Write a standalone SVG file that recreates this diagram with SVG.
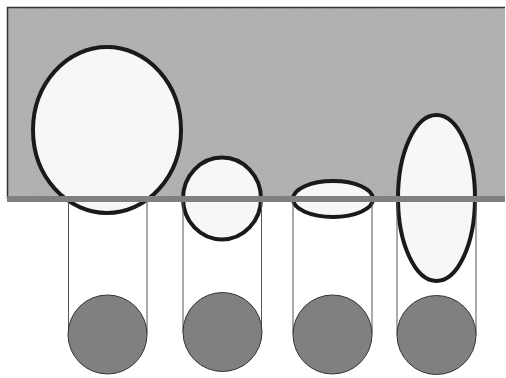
<svg xmlns="http://www.w3.org/2000/svg" width="506" height="378" viewBox="0 0 506 378">
<defs>
<filter id="noise" x="0" y="0" width="100%" height="100%">
<feTurbulence type="fractalNoise" baseFrequency="0.9" numOctaves="2" seed="3" result="t"/>
<feColorMatrix in="t" type="matrix" values="0 0 0 0 0.5  0 0 0 0 0.5  0 0 0 0 0.5  0 0 0 0.35 0" result="n"/>
<feComposite in="n" in2="SourceGraphic" operator="in" result="nm"/>
<feBlend in="SourceGraphic" in2="nm" mode="multiply"/>
</filter>
</defs>
<style>
.bg{fill:#b8b8b8}
.edge{stroke:#333;stroke-width:1.5;fill:none}
.shape{fill:#f7f7f7;stroke:#1a1a1a;stroke-width:4}
.bar{fill:#808080}
.line{stroke:#555;stroke-width:1;fill:none}
.ball{fill:#808080;stroke:#333;stroke-width:1}
</style>
<rect width="506" height="378" fill="#ffffff"/>
<g id="background">
<rect class="bg" x="7" y="7" width="498" height="192" filter="url(#noise)"/>
<path class="edge" d="M7.5 199 V7.5 H505"/>
</g>
<g id="shape-large-circle"><ellipse class="shape" cx="107" cy="130" rx="74" ry="83"/></g>
<g id="shape-small-circle"><ellipse class="shape" cx="222" cy="198.5" rx="39" ry="41"/></g>
<g id="shape-flat-ellipse"><ellipse class="shape" cx="333" cy="199" rx="40" ry="18"/></g>
<g id="shape-tall-ellipse"><ellipse class="shape" cx="436.5" cy="198" rx="38.5" ry="83"/></g>
<g id="bar"><rect class="bar" x="7" y="196" width="498" height="6"/></g>
<g id="connectors">
<line class="line" x1="68.5" y1="202" x2="68.5" y2="334"/>
<line class="line" x1="147" y1="202" x2="147" y2="334"/>
<line class="line" x1="183" y1="202" x2="183" y2="332"/>
<line class="line" x1="261.5" y1="202" x2="261.5" y2="332"/>
<line class="line" x1="293" y1="202" x2="293" y2="334"/>
<line class="line" x1="372" y1="202" x2="372" y2="334"/>
<line class="line" x1="397" y1="202" x2="397" y2="335"/>
<line class="line" x1="476" y1="202" x2="476" y2="335"/>
</g>
<g id="ball-1"><circle class="ball" cx="107.5" cy="334.5" r="39.5"/></g>
<g id="ball-2"><circle class="ball" cx="222.5" cy="332" r="39.5"/></g>
<g id="ball-3"><circle class="ball" cx="332.5" cy="334.5" r="39.5"/></g>
<g id="ball-4"><circle class="ball" cx="436.5" cy="335" r="39.5"/></g>
</svg>
